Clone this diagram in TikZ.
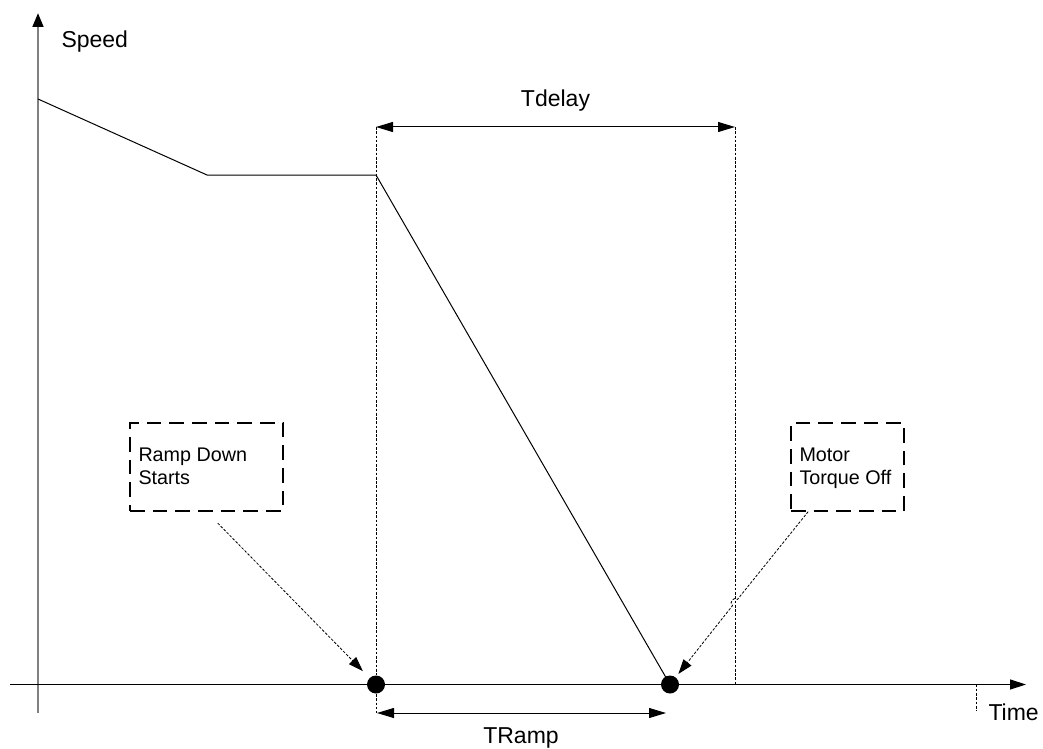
\documentclass[tikz,border=0pt]{standalone}
\usepackage{fontspec}
\setmainfont{Liberation Sans}
\usetikzlibrary{arrows.meta}

\tikzset{every picture/.style={line width=0.75pt}}
\tikzset{
  axislabel/.style={anchor=base west,inner sep=0pt,font=\fontsize{17.25}{20}\selectfont},
  notebox/.style={draw,line width=1pt,dash pattern={on 11pt off 6pt},minimum height=66pt,inner sep=0pt},
  notetext/.style={anchor=north west,inner sep=0pt,align=left,font=\fontsize{14.8}{17.25}\selectfont},
  dot/.style={circle,fill=black,inner sep=0pt,minimum size=13.5pt},
  guide/.style={dash pattern={on 2pt off 1.2pt},line width=0.6pt},
  pointer/.style={dash pattern={on 2pt off 1.2pt},line width=0.6pt,-{Triangle[length=11pt,width=7.5pt]}},
  span/.style={{Triangle[length=12.75pt,width=7.5pt]}-{Triangle[length=12.75pt,width=7.5pt]}}
}

\begin{document}
\begin{tikzpicture}[x=0.75pt,y=0.75pt,yscale=-1,xscale=1]
\useasboundingbox (0,0) rectangle (1043,749);

% axes
\draw [color={rgb, 255:red, 128; green, 128; blue, 128 },line width=2pt,-{Triangle[length=10.5pt,width=8pt,color=black]}] (38,713) -- (38,13) ;
\draw [line width=1pt,-{Triangle[length=12pt,width=7.5pt]}] (10,684.5) -- (1026,684.5) ;
\draw [guide] (976,684.5) -- (976,711) ;

\node [axislabel] (speed) at (61,48) {Speed};
\node [axislabel] (time) at (988,720) {Time};

% markers on the time axis
\node [dot] (rampstart) at (376,684.5) {};
\node [dot] (torqueoff) at (670,684.5) {};

% speed profile
\draw (38,99) -- (207,175) -- (376,175) -- (torqueoff.center) ;

% time spans
\draw [guide] (376,127) -- (rampstart) ;
\draw [guide] (rampstart) -- (376,713) ;
\draw [guide] (735,127) -- (735,684.5) ;
\draw [span] (376,127) -- (735,127) node [midway,above=15pt,inner sep=0pt,anchor=base,font=\fontsize{17.25}{20}\selectfont] (tdelay) {Tdelay} ;
\draw [span] (377,713) -- (666,713) ;
\node [anchor=base,inner sep=0pt,font=\fontsize{17.25}{20}\selectfont] (tramp) at (521,743.5) {TRamp};

% notes
\node [notebox,minimum width=114.75pt] (ramp) at (206.5,467) {};
\node [notetext] (ramptext) at (138,447) {Ramp Down\\Starts};
\node [notebox,minimum width=84.75pt] (motor) at (847.5,467) {};
\node [notetext] (motortext) at (799,447) {Motor\\Torque Off};

\draw [pointer,shorten <=12pt,shorten >=7pt] (ramp.south) -- (rampstart) ;
\coordinate (motorfoot) at ([xshift=-29.5pt]motor.south);
\coordinate (hopa) at (737.5,599.4);
\coordinate (hopb) at (732.5,605.6);
\draw [pointer,shorten >=3pt] (motorfoot) -- (hopa) .. controls (733.6,596.3) and (728.6,602.5) .. (hopb) -- (torqueoff) ;

\end{tikzpicture}
\end{document}
